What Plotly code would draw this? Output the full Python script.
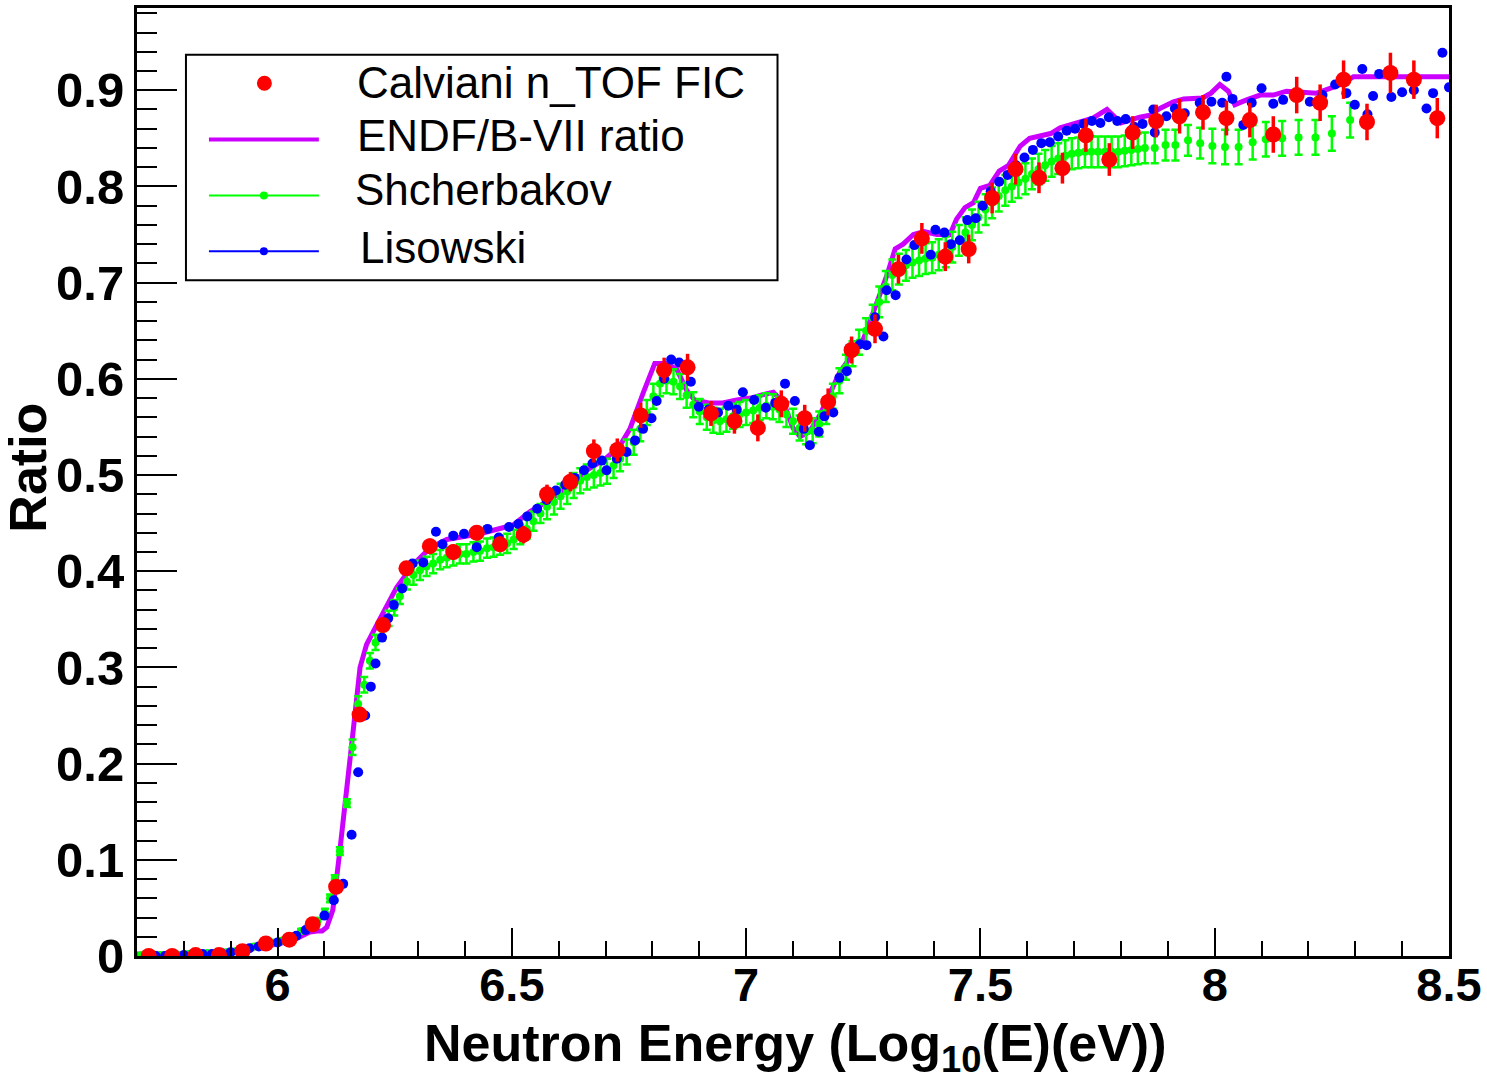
import plotly.graph_objects as go

# ---- Calviani n_TOF FIC (ratio with error) ----
calv_x = [5.725, 5.775, 5.825, 5.875, 5.925, 5.975, 6.025, 6.075, 6.125, 6.175,
          6.225, 6.275, 6.325, 6.375, 6.425, 6.475, 6.525, 6.575, 6.625, 6.675,
          6.725, 6.775, 6.825, 6.875, 6.925, 6.975, 7.025, 7.075, 7.125, 7.175,
          7.225, 7.275, 7.325, 7.375, 7.425, 7.475, 7.525, 7.575, 7.625, 7.675,
          7.725, 7.775, 7.825, 7.875, 7.925, 7.975, 8.025, 8.075, 8.125, 8.175,
          8.225, 8.275, 8.325, 8.375, 8.425, 8.475]
calv_y = [0.000, 0.000, 0.001, 0.001, 0.005, 0.013, 0.017, 0.033, 0.072, 0.251,
          0.344, 0.403, 0.426, 0.420, 0.440, 0.428, 0.438, 0.480, 0.493, 0.525,
          0.526, 0.562, 0.609, 0.612, 0.564, 0.556, 0.549, 0.574, 0.559, 0.576,
          0.630, 0.652, 0.714, 0.746, 0.727, 0.735, 0.788, 0.818, 0.809, 0.819,
          0.853, 0.828, 0.856, 0.868, 0.873, 0.877, 0.871, 0.869, 0.854, 0.895,
          0.887, 0.911, 0.867, 0.918, 0.911, 0.871]
calv_err = [0.002, 0.002, 0.002, 0.002, 0.002, 0.003, 0.003, 0.004, 0.005, 0.006,
            0.007, 0.007, 0.008, 0.008, 0.008, 0.008, 0.009, 0.010, 0.010, 0.012,
            0.012, 0.013, 0.013, 0.014, 0.013, 0.013, 0.014, 0.014, 0.014, 0.014,
            0.014, 0.015, 0.015, 0.016, 0.015, 0.015, 0.016, 0.016, 0.016, 0.016,
            0.017, 0.017, 0.017, 0.017, 0.018, 0.018, 0.018, 0.018, 0.019, 0.019,
            0.019, 0.020, 0.019, 0.021, 0.020, 0.021]

# ---- ENDF/B-VII ratio curve ----
endf_x = [5.700, 5.800, 5.900, 5.950, 6.005, 6.040, 6.069, 6.085, 6.095, 6.105,
          6.118, 6.133, 6.148, 6.162, 6.176, 6.190, 6.219, 6.254, 6.290, 6.325,
          6.361, 6.432, 6.503, 6.539, 6.580, 6.620, 6.660, 6.700, 6.730, 6.752,
          6.780, 6.805, 6.830, 6.852, 6.873, 6.890, 6.920, 6.950, 6.980, 7.010,
          7.040, 7.058, 7.080, 7.100, 7.115, 7.135, 7.157, 7.200, 7.250, 7.279,
          7.300, 7.318, 7.335, 7.357, 7.380, 7.407, 7.435, 7.449, 7.467, 7.485,
          7.500, 7.520, 7.540, 7.560, 7.585, 7.605, 7.627, 7.650, 7.670, 7.690,
          7.712, 7.740, 7.770, 7.800, 7.840,
          7.862, 7.883, 7.912, 7.934, 7.974, 7.992, 8.011, 8.029, 8.043, 8.068,
          8.097, 8.125, 8.153, 8.218, 8.246, 8.274, 8.296, 8.400, 8.500]
endf_y = [0.002, 0.002, 0.004, 0.008, 0.013, 0.018, 0.025, 0.026, 0.026, 0.030,
          0.048, 0.110, 0.172, 0.237, 0.300, 0.324, 0.351, 0.383, 0.407, 0.424,
          0.433, 0.439, 0.448, 0.462, 0.474, 0.488, 0.505, 0.517, 0.530, 0.548,
          0.585, 0.616, 0.616, 0.610, 0.588, 0.578, 0.575, 0.575, 0.578, 0.580,
          0.584, 0.586, 0.575, 0.549, 0.540, 0.545, 0.562, 0.607, 0.641, 0.679,
          0.707, 0.735, 0.740, 0.750, 0.753, 0.750, 0.750, 0.766, 0.778, 0.783,
          0.798, 0.801, 0.816, 0.822, 0.842, 0.850, 0.853, 0.855, 0.861, 0.864,
          0.868, 0.871, 0.880, 0.866, 0.872,
          0.874, 0.881, 0.888, 0.891, 0.892, 0.897, 0.906, 0.899, 0.885, 0.890,
          0.895, 0.895, 0.899, 0.897, 0.902, 0.907, 0.914, 0.914, 0.914]

# ---- Shcherbakov ----
sh_x = [5.71, 5.73, 5.75, 5.77, 5.79, 5.81, 5.83, 5.85, 5.87, 5.89,
        5.91, 5.93, 5.95, 5.97, 5.99, 6.01, 6.03, 6.05, 6.07, 6.085,
        6.101, 6.112, 6.122, 6.133, 6.148, 6.160, 6.172, 6.185, 6.197, 6.209,
        6.223, 6.237, 6.249, 6.261, 6.276, 6.290, 6.304, 6.318, 6.332, 6.347,
        6.361, 6.375, 6.389, 6.403, 6.418, 6.432, 6.447, 6.461, 6.475, 6.490,
        6.504, 6.518, 6.532, 6.546, 6.561, 6.575, 6.590, 6.604, 6.618, 6.632,
        6.646, 6.660, 6.675, 6.689, 6.703, 6.717, 6.731, 6.745, 6.760, 6.774,
        6.788, 6.802, 6.816, 6.830, 6.845, 6.859, 6.873, 6.887, 6.901, 6.916,
        6.930, 6.944, 6.958, 6.972, 6.986, 7.000, 7.015, 7.029, 7.043, 7.057,
        7.071, 7.086, 7.100, 7.114, 7.128, 7.142, 7.156, 7.171, 7.185, 7.199,
        7.213, 7.227, 7.241, 7.256, 7.270, 7.284, 7.298, 7.312, 7.326, 7.341,
        7.355, 7.369, 7.383, 7.397, 7.411, 7.426, 7.440, 7.454, 7.468, 7.482,
        7.496, 7.511, 7.525, 7.539, 7.553, 7.567, 7.581, 7.596, 7.610, 7.624,
        7.638, 7.652, 7.666, 7.681, 7.695, 7.709, 7.723, 7.737, 7.751, 7.766,
        7.780, 7.794, 7.808, 7.822, 7.836, 7.851, 7.872, 7.895, 7.916, 7.943,
        7.969, 7.995, 8.022, 8.051, 8.081, 8.109, 8.144, 8.179, 8.215, 8.250,
        8.289]
sh_y = [0.001, 0.001, 0.001, 0.001, 0.001, 0.002, 0.002, 0.003, 0.003, 0.004,
        0.005, 0.007, 0.010, 0.012, 0.014, 0.016, 0.020, 0.026, 0.033, 0.037,
        0.045, 0.060, 0.080, 0.109, 0.159, 0.217, 0.262, 0.282, 0.307, 0.326,
        0.340, 0.351, 0.362, 0.374, 0.389, 0.396, 0.401, 0.405, 0.408, 0.412,
        0.414, 0.416, 0.418, 0.418, 0.420, 0.421, 0.424, 0.425, 0.427, 0.429,
        0.433, 0.438, 0.444, 0.452, 0.460, 0.467, 0.472, 0.478, 0.483, 0.489,
        0.494, 0.498, 0.500, 0.502, 0.504, 0.510, 0.517, 0.524, 0.534, 0.548,
        0.565, 0.582, 0.595, 0.598, 0.597, 0.592, 0.583, 0.573, 0.566, 0.560,
        0.557, 0.556, 0.558, 0.561, 0.563, 0.565, 0.567, 0.570, 0.572, 0.571,
        0.568, 0.563, 0.556, 0.549, 0.545, 0.546, 0.553, 0.566, 0.582, 0.598,
        0.612, 0.626, 0.638, 0.650, 0.664, 0.680, 0.696, 0.708, 0.714, 0.718,
        0.721, 0.723, 0.725, 0.726, 0.729, 0.732, 0.737, 0.744, 0.752, 0.760,
        0.768, 0.776, 0.783, 0.790, 0.796, 0.800, 0.804, 0.808, 0.813, 0.818,
        0.822, 0.826, 0.829, 0.832, 0.834, 0.835, 0.836, 0.836, 0.836, 0.836,
        0.836, 0.836, 0.837, 0.838, 0.839, 0.840, 0.840, 0.843, 0.843, 0.848,
        0.845, 0.842, 0.841, 0.841, 0.846, 0.849, 0.850, 0.851, 0.851, 0.855,
        0.869]
sh_err = ([0.002] * 20 + [0.004] * 5 + [0.008] * 10 + [0.010] * 20
          + [0.013] * 50 + [0.016] * 46 + [0.018] * 10)

# ---- Lisowski ----
lis_x = [5.72, 5.74, 5.76, 5.78, 5.80, 5.82, 5.84, 5.86, 5.88, 5.90,
         5.92, 5.94, 5.96, 5.98, 6.00, 6.02, 6.04, 6.06, 6.08, 6.10,
         6.12, 6.14, 6.158, 6.172, 6.187, 6.199, 6.209, 6.223, 6.236, 6.248,
         6.266, 6.288, 6.311, 6.338, 6.352, 6.375, 6.398, 6.425, 6.448, 6.472,
         6.494, 6.514, 6.533, 6.554, 6.574, 6.594, 6.614, 6.634, 6.654, 6.672,
         6.692, 6.702, 6.724, 6.745, 6.763, 6.780, 6.798, 6.809, 6.825, 6.840,
         6.857, 6.882, 6.899, 6.920, 6.940, 6.962, 6.980, 6.993, 7.017, 7.042,
         7.062, 7.083, 7.104, 7.123, 7.136, 7.155, 7.167, 7.186, 7.199, 7.215,
         7.243, 7.257, 7.275, 7.293, 7.300, 7.319, 7.342, 7.359, 7.376, 7.394,
         7.404, 7.423, 7.437, 7.456, 7.472, 7.490, 7.505, 7.522, 7.540, 7.558,
         7.576, 7.594, 7.612, 7.630, 7.648, 7.666, 7.684, 7.702, 7.720, 7.738,
         7.756, 7.774, 7.792, 7.810, 7.828, 7.846, 7.869, 7.872, 7.897, 7.915,
         7.936, 7.968, 7.993, 8.016, 8.025, 8.038, 8.061, 8.079, 8.100, 8.125,
         8.146, 8.175, 8.203, 8.230, 8.257, 8.281, 8.299, 8.315, 8.326, 8.338,
         8.351, 8.377, 8.400, 8.425, 8.452, 8.466, 8.486, 8.500]
lis_y = [0.000, 0.000, 0.000, 0.000, 0.001, 0.001, 0.002, 0.002, 0.003, 0.004,
         0.006, 0.008, 0.010, 0.012, 0.014, 0.017, 0.021, 0.027, 0.034, 0.042,
         0.058, 0.075, 0.126, 0.191, 0.250, 0.280, 0.304, 0.331, 0.351, 0.365,
         0.382, 0.408, 0.409, 0.441, 0.428, 0.437, 0.439, 0.425, 0.444, 0.435,
         0.446, 0.449, 0.457, 0.465, 0.474, 0.484, 0.490, 0.497, 0.505, 0.512,
         0.515, 0.505, 0.517, 0.524, 0.536, 0.548, 0.559, 0.577, 0.600, 0.620,
         0.617, 0.597, 0.571, 0.568, 0.565, 0.572, 0.568, 0.586, 0.578, 0.570,
         0.575, 0.595, 0.577, 0.548, 0.531, 0.545, 0.561, 0.565, 0.601, 0.608,
         0.636, 0.635, 0.664, 0.644, 0.692, 0.687, 0.724, 0.739, 0.745, 0.729,
         0.755, 0.752, 0.740, 0.744, 0.765, 0.767, 0.780, 0.795, 0.805, 0.812,
         0.822, 0.830, 0.838, 0.845, 0.846, 0.852, 0.858, 0.860, 0.865, 0.868,
         0.866, 0.872, 0.868, 0.870, 0.862, 0.865, 0.880, 0.856, 0.873, 0.881,
         0.876, 0.887, 0.888, 0.887, 0.914, 0.891, 0.864, 0.887, 0.902, 0.886,
         0.890, 0.893, 0.888, 0.895, 0.906, 0.897, 0.885, 0.922, 0.875, 0.894,
         0.917, 0.893, 0.898, 0.900, 0.881, 0.897, 0.939, 0.903]

# tick labels
y_ticks = [0, 0.1, 0.2, 0.3, 0.4, 0.5, 0.6, 0.7, 0.8, 0.9]
y_ticktext = ["0", "0.1", "0.2", "0.3", "0.4", "0.5", "0.6", "0.7", "0.8", "0.9"]
x_ticks = [6, 6.5, 7, 7.5, 8, 8.5]
x_ticktext = ["6", "6.5", "7", "7.5", "8", "8.5"]

legend_labels = ["Calviani n_TOF FIC", "ENDF/B-VII ratio", "Shcherbakov", "Lisowski"]

RED = "#ff0000"
MAGENTA = "#cc00ff"
GREEN = "#00ff00"
BLUE = "#0000ff"
FONT = "Liberation Sans"

fig = go.Figure()

fig.add_trace(go.Scatter(
    x=endf_x, y=endf_y, mode="lines",
    line=dict(color=MAGENTA, width=5), name=legend_labels[1]))

fig.add_trace(go.Scatter(
    x=sh_x, y=sh_y, mode="markers",
    marker=dict(color=GREEN, size=8),
    error_y=dict(type="data", array=sh_err, visible=True,
                 color=GREEN, thickness=2.5, width=4),
    name=legend_labels[2]))

fig.add_trace(go.Scatter(
    x=lis_x, y=lis_y, mode="markers",
    marker=dict(color=BLUE, size=10), name=legend_labels[3]))

fig.add_trace(go.Scatter(
    x=calv_x, y=calv_y, mode="markers",
    marker=dict(color=RED, size=16),
    error_y=dict(type="data", array=calv_err, visible=True,
                 color=RED, thickness=3.5, width=0),
    name=legend_labels[0]))

# plot-area geometry in pixels
W, H = 1487, 1092
ML, MR, MT, MB = 137, 37, 5, 136
PW, PH = W - ML - MR, H - MT - MB


def px(xp):
    return (xp - ML) / PW


def py(yp):
    return (H - MB - yp) / PH


fig.update_layout(
    width=W, height=H,
    margin=dict(l=ML, r=MR, t=MT, b=MB),
    plot_bgcolor="white", paper_bgcolor="white",
    showlegend=False,
    xaxis=dict(
        range=[5.7, 8.5], showgrid=False, zeroline=False,
        showline=True, linecolor="black", linewidth=3, mirror=True,
        ticks="inside", ticklen=28, tickwidth=2, tickcolor="black",
        tickvals=x_ticks, ticktext=x_ticktext, ticklabelstandoff=-14,
        tickfont=dict(family=FONT, size=47, color="black", weight="bold"),
        minor=dict(tick0=5.7, dtick=0.1, ticks="inside", ticklen=15,
                   tickwidth=2, tickcolor="black", showgrid=False),
    ),
    yaxis=dict(
        range=[0, 0.9855], showgrid=False, zeroline=False,
        showline=True, linecolor="black", linewidth=3, mirror=True,
        ticks="inside", ticklen=40, tickwidth=2, tickcolor="black",
        tickvals=y_ticks, ticktext=y_ticktext,
        tickfont=dict(family=FONT, size=49, color="black", weight="bold"),
        minor=dict(tick0=0, dtick=0.02, ticks="inside", ticklen=20,
                   tickwidth=2, tickcolor="black", showgrid=False),
    ),
)

shapes = []
annotations = []

# legend box
shapes.append(dict(type="rect", xref="paper", yref="paper",
                   x0=px(186), x1=px(778), y0=py(278), y1=py(52),
                   line=dict(color="black", width=2), fillcolor="white",
                   layer="above"))
# legend samples
shapes.append(dict(type="circle", xref="paper", yref="paper",
                   x0=px(257), x1=px(272), y0=py(88), y1=py(73),
                   line=dict(color=RED, width=0), fillcolor=RED, layer="above"))
shapes.append(dict(type="line", xref="paper", yref="paper",
                   x0=px(209), x1=px(319), y0=py(137), y1=py(137),
                   line=dict(color=MAGENTA, width=4), layer="above"))
for yy, col in ((193, GREEN), (249, BLUE)):
    shapes.append(dict(type="line", xref="paper", yref="paper",
                       x0=px(209), x1=px(319), y0=py(yy), y1=py(yy),
                       line=dict(color=col, width=2), layer="above"))
    shapes.append(dict(type="circle", xref="paper", yref="paper",
                       x0=px(260), x1=px(268), y0=py(yy + 4), y1=py(yy - 4),
                       line=dict(color=col, width=0), fillcolor=col,
                       layer="above"))

for label, xx, yy in zip(legend_labels, (355, 355, 353, 358), (80, 133, 187, 245)):
    annotations.append(dict(text=label, xref="paper", yref="paper",
                            x=px(xx), y=py(yy), xanchor="left", yanchor="middle",
                            showarrow=False,
                            font=dict(family=FONT, size=44, color="black")))

# axis titles
annotations.append(dict(
    text="Neutron Energy (Log<sub>10</sub>(E)(eV))",
    xref="paper", yref="paper", x=px(796), y=py(1047),
    xanchor="center", yanchor="middle", showarrow=False,
    font=dict(family=FONT, size=52, color="black", weight="bold")))
annotations.append(dict(
    text="Ratio", xref="paper", yref="paper", x=px(27), y=py(466),
    xanchor="center", yanchor="middle", textangle=-90, showarrow=False,
    font=dict(family=FONT, size=52, color="black", weight="bold")))

fig.update_layout(shapes=shapes, annotations=annotations)

fig.write_html("out.html")
